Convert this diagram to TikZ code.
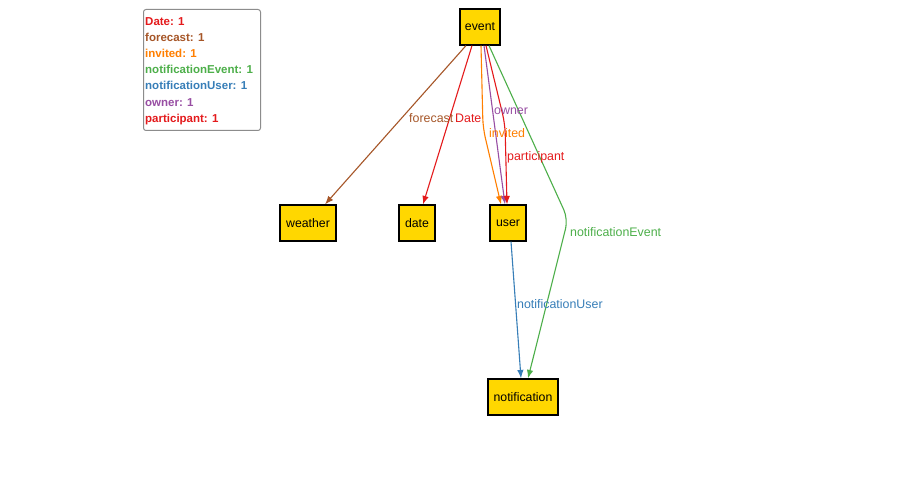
\documentclass[tikz,border=0pt]{standalone}
\usepackage{fontspec}
\setmainfont{Liberation Sans}
\usetikzlibrary{arrows.meta,calc}

% relation colours
\definecolor{cDate}{HTML}{E41A1C}
\definecolor{cForecast}{HTML}{A65628}
\definecolor{cInvited}{HTML}{FF7F00}
\definecolor{cNotifEvent}{HTML}{4DAF4A}
\definecolor{cNotifUser}{HTML}{377EB8}
\definecolor{cOwner}{HTML}{984EA3}
\definecolor{cParticipant}{HTML}{E41A1C}
\definecolor{cEntityFill}{HTML}{FFD700}

\begin{document}
\begin{tikzpicture}[x=1pt,y=-1pt,
  entity/.style={draw=black, line width=1.2pt, fill=cEntityFill,
    minimum height=36pt, inner sep=0pt, font=\fontsize{12.3}{14}\selectfont},
  rel/.style={line width=1.1pt, rounded corners=10pt,
    -{Latex[length=8.5pt,width=6.5pt]}},
  lbl/.style={font=\fontsize{12.4}{14}\selectfont, inner sep=0pt, anchor=base west},
  legendbox/.style={draw=gray!90, line width=1pt, rounded corners=2.5pt,
    inner sep=0pt, anchor=north west},
  legendline/.style={font=\bfseries\fontsize{11.5}{14}\selectfont,
    inner sep=0pt, anchor=base west}]

% canvas
\useasboundingbox[fill=white] (0,0) rectangle (897,492);

% entities
\node[entity, minimum width=40pt] (event) at (480,27) {event};
\node[entity, minimum width=56pt] (weather) at (308,223) {weather};
\node[entity, minimum width=36pt] (date) at (417,223) {date};
\node[entity, minimum width=36pt] (user) at (508,223) {user};
\node[entity, minimum width=70pt] (notification) at (523,397) {notification};

% relations
\draw[rel, cForecast] ([xshift=-14pt]event.south) -- ([xshift=17pt]weather.north);
\draw[rel, cDate] ([xshift=-8pt]event.south) -- ([xshift=6pt]date.north);
\draw[rel, cInvited] ([xshift=1pt]event.south) -- (483,128) -- ([xshift=-7pt]user.north);
\draw[rel, cOwner] ([xshift=4pt]event.south) -- ([xshift=-3pt]user.north);
\draw[rel, cParticipant] ([xshift=6pt]event.south) -- (505,124) -- ([xshift=-1pt]user.north);
\draw[rel, cNotifEvent] ([xshift=9pt]event.south) -- (568,219) -- ([xshift=5pt]notification.north);
\draw[rel, cNotifUser] ([xshift=3pt]user.south) -- ([xshift=-2pt]notification.north);

% relation labels
\node[lbl, text=cForecast] (lforecast) at (409,122.3) {forecast};
\node[lbl, text=cDate] (ldate) at (455,122.3) {Date};
\node[lbl, text=cOwner] (lowner) at (494,114.3) {owner};
\node[lbl, text=cInvited] (linvited) at (489,137.3) {invited};
\node[lbl, text=cParticipant] (lparticipant) at (507,160.3) {participant};
\node[lbl, text=cNotifEvent] (lnotifevent) at (570,236.3) {notificationEvent};
\node[lbl, text=cNotifUser] (lnotifuser) at (517,308.3) {notificationUser};

% legend
\node[legendbox, minimum width=117pt, minimum height=121pt] (legend) at (143,9) {};
\node[legendline, text=cDate] (kdate) at (145,25.2) {Date: 1};
\node[legendline, text=cForecast] (kforecast) at (145,41.4) {forecast: 1};
\node[legendline, text=cInvited] (kinvited) at (145,57.6) {invited: 1};
\node[legendline, text=cNotifEvent] (knotifevent) at (145,73.8) {notificationEvent: 1};
\node[legendline, text=cNotifUser] (knotifuser) at (145,90.0) {notificationUser: 1};
\node[legendline, text=cOwner] (kowner) at (145,106.2) {owner: 1};
\node[legendline, text=cParticipant] (kparticipant) at (145,122.4) {participant: 1};
\end{tikzpicture}
\end{document}
